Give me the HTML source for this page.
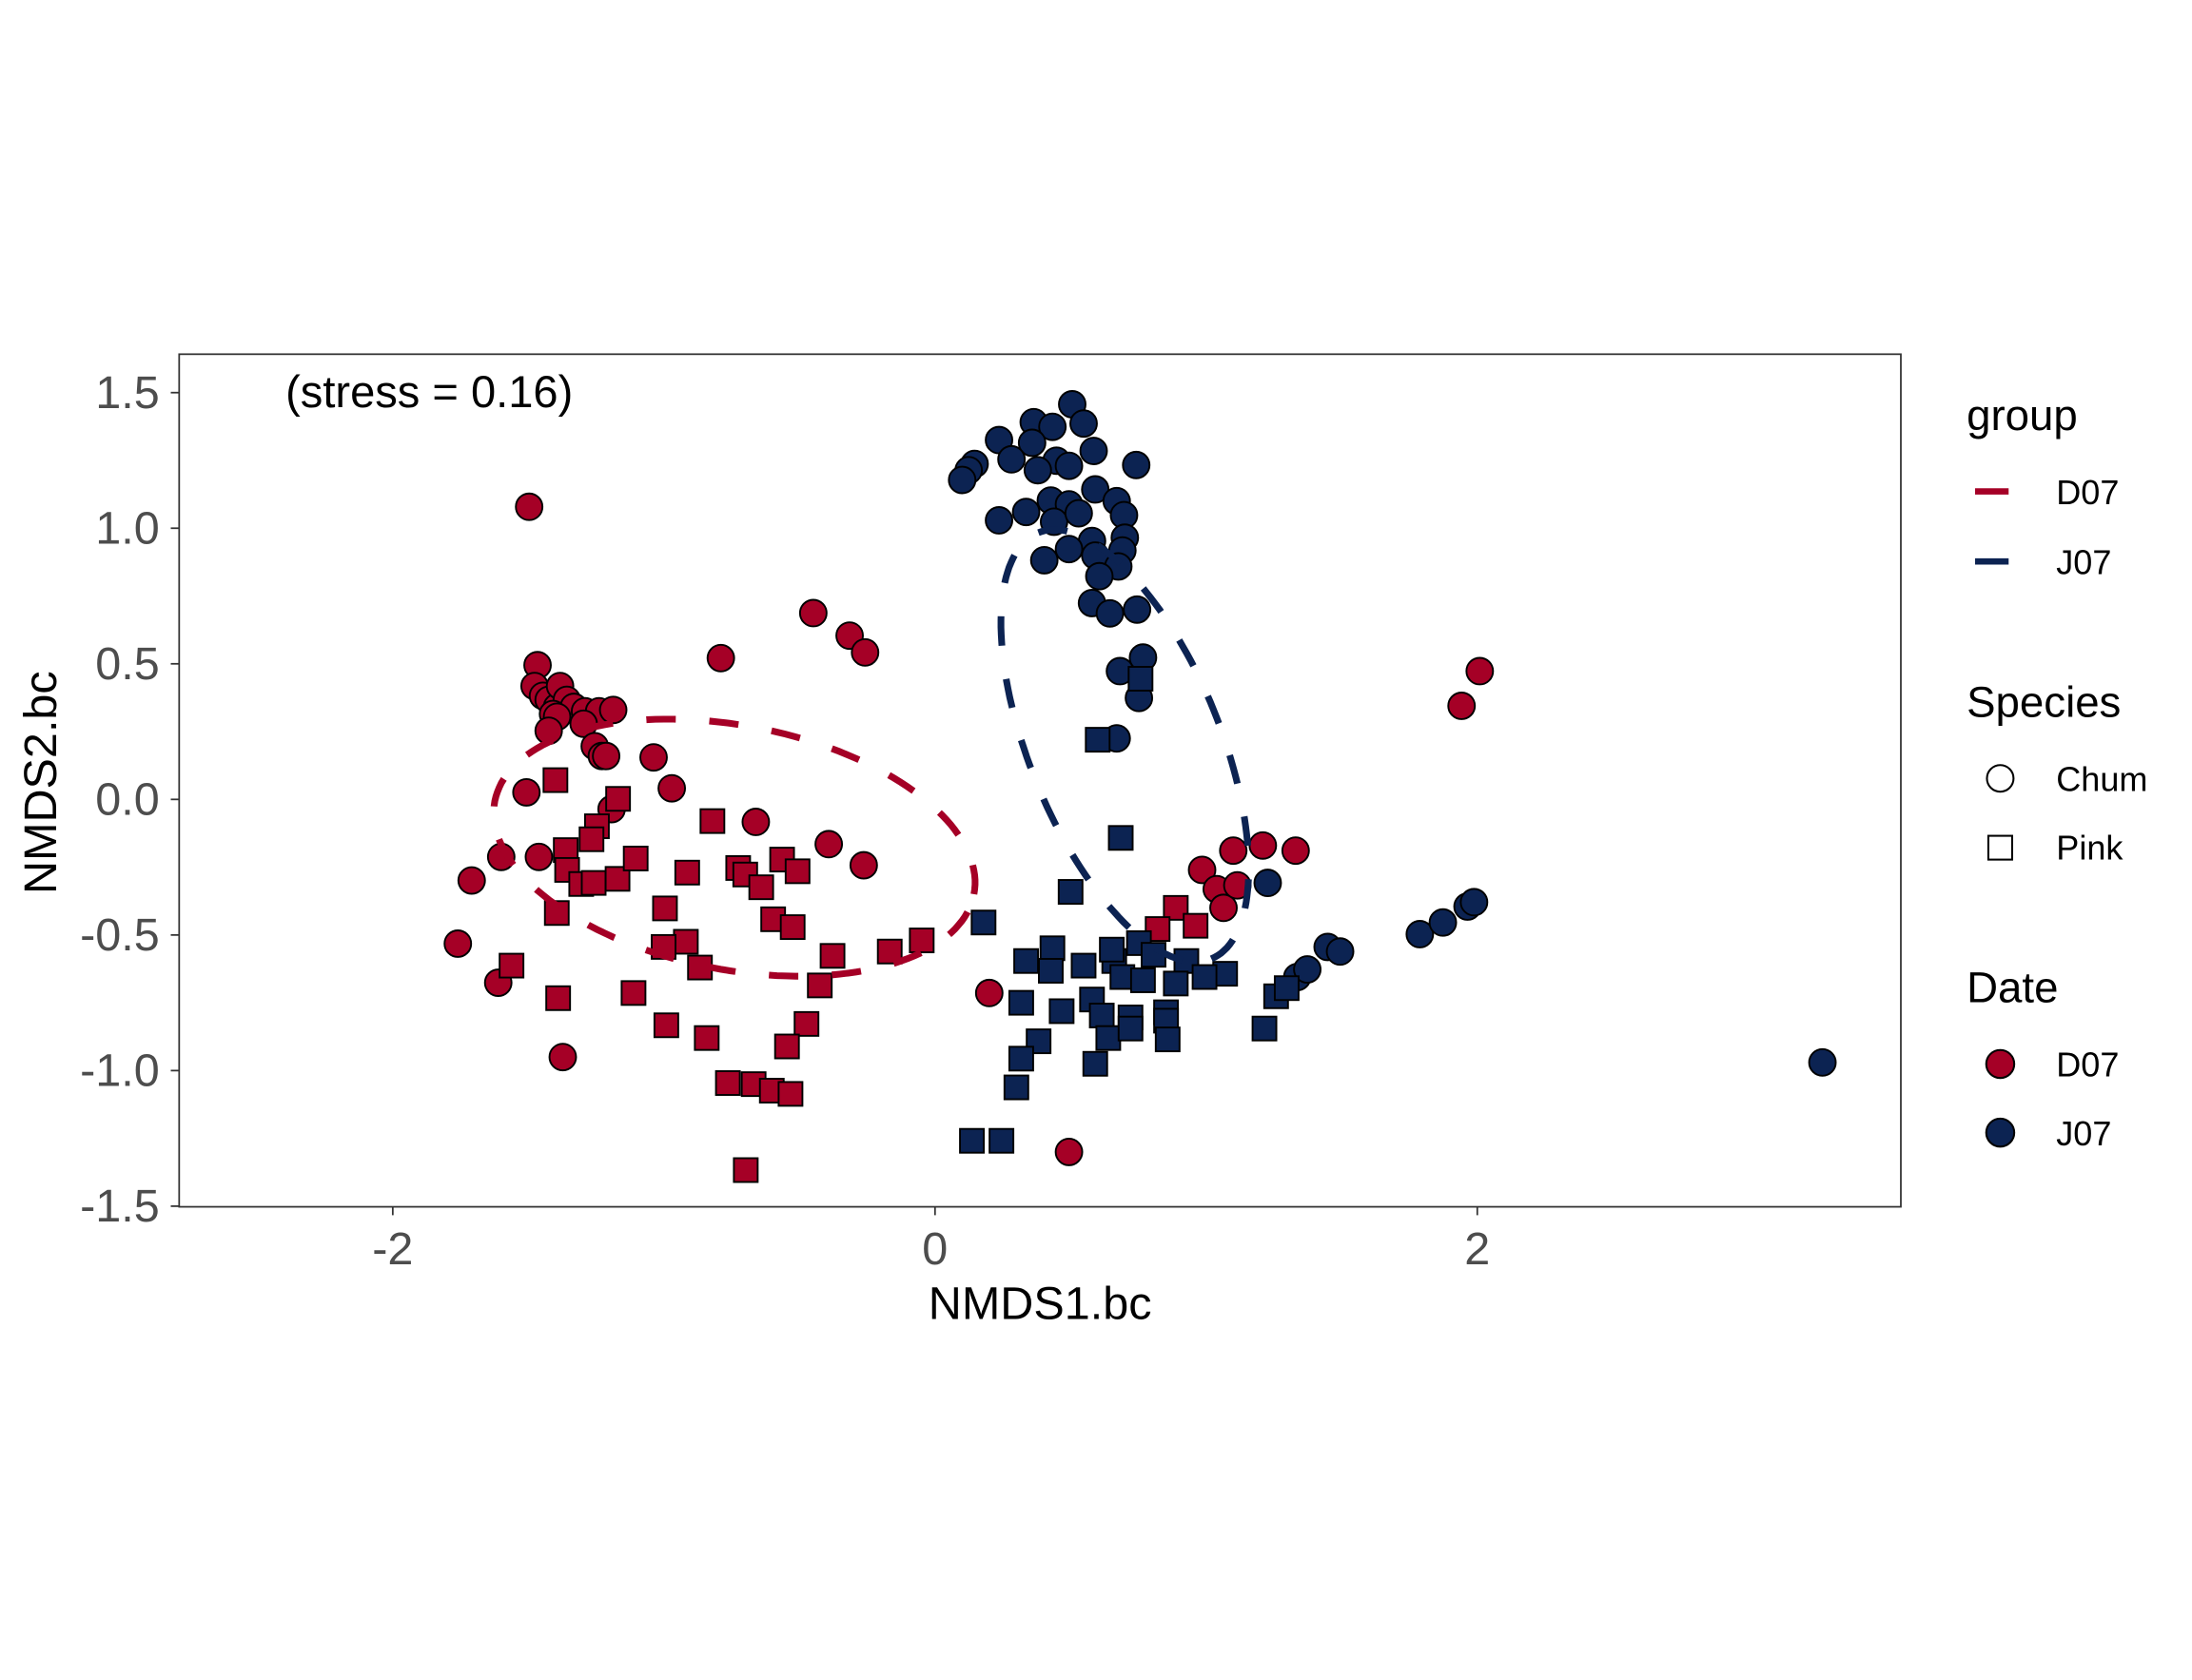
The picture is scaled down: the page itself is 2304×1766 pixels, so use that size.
<!DOCTYPE html>
<html><head><meta charset="utf-8"><style>
html,body{margin:0;padding:0;background:#fff;}
svg{display:block;font-family:"Liberation Sans",Arial,sans-serif;}
</style></head><body>
<svg id="chart" width="2304" height="1766" viewBox="0 0 1566 1200" preserveAspectRatio="none" xmlns="http://www.w3.org/2000/svg">
<rect x="0" y="0" width="1566" height="1200" fill="#fff"/>
<g id="marks"></g>
<g id="ells"></g>
<rect x="128" y="253" width="1230" height="609" fill="none" stroke="#333" stroke-width="1.2"/>
<g id="axes"></g>
<text x="204" y="291" font-size="32" fill="#000">(stress = 0.16)</text>
<text x="743" y="942" font-size="33" text-anchor="middle" fill="#000">NMDS1.bc</text>
<text transform="translate(40,559) rotate(-90)" font-size="33" text-anchor="middle" fill="#000">NMDS2.bc</text>
<g font-size="24.5" fill="#000">
  <text x="1405" y="307" font-size="31">group</text>
  <line x1="1411" y1="351" x2="1435" y2="351" stroke="#A50026" stroke-width="4.5"/>
  <text x="1469" y="360">D07</text>
  <line x1="1411" y1="401" x2="1435" y2="401" stroke="#0C2352" stroke-width="4.5"/>
  <text x="1469" y="410">J07</text>
  <text x="1405" y="512" font-size="31">Species</text>
  <circle cx="1429" cy="556" r="9.5" fill="none" stroke="#000" stroke-width="1.4"/>
  <text x="1469" y="565">Chum</text>
  <rect x="1420.5" y="597" width="17" height="17" fill="none" stroke="#000" stroke-width="1.4"/>
  <text x="1469" y="614">Pink</text>
  <text x="1405" y="716" font-size="31">Date</text>
  <circle cx="1429" cy="760" r="10" fill="#A50026" stroke="#000" stroke-width="1.4"/>
  <text x="1469" y="769">D07</text>
  <circle cx="1429" cy="809" r="10" fill="#0C2352" stroke="#000" stroke-width="1.4"/>
  <text x="1469" y="818">J07</text>
</g>
</svg>
<script>
const xTicks = [-2, 0, 2];
const xTickLabels = ["-2", "0", "2"];
const yTicks = [1.5, 1.0, 0.5, 0.0, -0.5, -1.0, -1.5];
const yTickLabels = ["1.5", "1.0", "0.5", "0.0", "-0.5", "-1.0", "-1.5"];

const d07ChumX = [-1.497,-1.466,-1.477,-1.446,-1.425,-1.394,-1.383,-1.358,-1.332,-1.409,-1.291,-1.239,-1.187,-1.394,-1.425,-1.296,-1.255,-1.229,-1.213,-1.507,-1.600,-1.461,-1.709,-1.760,-1.611,-1.373,-1.038,-0.971,-0.790,-0.449,-0.315,-0.258,-0.661,-0.392,-0.263,0.200,0.494,0.985,1.039,1.064,1.100,1.209,1.330,1.115,1.942,2.009,-1.193];
const d07ChumY = [1.079,0.495,0.418,0.382,0.367,0.341,0.418,0.367,0.341,0.315,0.325,0.325,0.330,0.305,0.253,0.279,0.196,0.160,0.160,0.026,-0.212,-0.212,-0.299,-0.532,-0.676,-0.950,0.155,0.041,0.521,0.687,0.604,0.542,-0.083,-0.165,-0.243,-0.714,-1.300,-0.260,-0.331,-0.400,-0.189,-0.170,-0.189,-0.317,0.345,0.473,-0.036];

const d07PinkX = [-1.400,-1.169,-1.247,-1.267,-1.362,-1.357,-1.305,-1.259,-1.171,-1.104,-1.395,-1.562,-1.390,-1.112,-0.996,-0.914,-0.919,-0.867,-0.991,-0.842,-0.821,-0.726,-0.700,-0.641,-0.564,-0.507,-0.597,-0.525,-0.378,-0.425,-0.474,-0.546,-0.764,-0.669,-0.602,-0.533,-0.698,-0.167,-0.049,-1.001,0.888,0.821,0.961];
const d07PinkY = [0.071,0.002,-0.099,-0.147,-0.187,-0.260,-0.312,-0.308,-0.293,-0.218,-0.419,-0.613,-0.733,-0.714,-0.402,-0.270,-0.525,-0.620,-0.833,-0.880,-0.080,-0.253,-0.277,-0.324,-0.222,-0.265,-0.442,-0.471,-0.577,-0.686,-0.828,-0.911,-1.046,-1.050,-1.074,-1.086,-1.367,-0.561,-0.520,-0.544,-0.400,-0.478,-0.466];

const j07ChumX = [0.506,0.364,0.433,0.548,0.236,0.358,0.585,0.282,0.448,0.494,0.379,0.742,0.146,0.124,0.100,0.591,0.670,0.427,0.494,0.697,0.336,0.236,0.439,0.530,0.579,0.700,0.691,0.494,0.403,0.591,0.676,0.606,0.579,0.645,0.745,0.767,0.682,0.752,0.670,1.227,1.448,1.494,1.788,1.873,1.964,1.988,1.336,1.373,3.273];
const j07ChumY = [1.457,1.391,1.374,1.386,1.325,1.315,1.285,1.254,1.249,1.230,1.214,1.233,1.237,1.214,1.178,1.143,1.100,1.102,1.088,1.048,1.060,1.029,1.024,1.055,0.953,0.965,0.918,0.923,0.882,0.899,0.859,0.823,0.724,0.686,0.700,0.523,0.473,0.374,0.225,-0.308,-0.544,-0.561,-0.497,-0.454,-0.395,-0.379,-0.655,-0.627,-0.970];

const j07PinkX = [0.600,0.758,0.685,0.500,0.179,0.336,0.433,0.427,0.548,0.661,0.652,0.752,0.806,0.927,0.888,0.691,0.767,1.070,0.994,0.318,0.467,0.579,0.615,0.721,0.852,0.852,0.639,0.721,0.858,0.382,0.318,0.591,0.300,0.136,0.245,1.215,1.258,1.297];
const j07PinkY = [0.220,0.445,-0.142,-0.341,-0.454,-0.596,-0.549,-0.632,-0.613,-0.596,-0.554,-0.530,-0.573,-0.596,-0.679,-0.655,-0.667,-0.643,-0.655,-0.750,-0.781,-0.738,-0.797,-0.804,-0.785,-0.816,-0.880,-0.845,-0.885,-0.892,-0.956,-0.975,-1.062,-1.259,-1.259,-0.845,-0.726,-0.696];

const ellipseGroups = ["D07", "J07"];
const ellipseCx = [-0.74, 0.70];
const ellipseCy = [-0.178, 0.198];
const ellipseA = [0.90, 0.848];
const ellipseB = [0.45, 0.353];
const ellipseAngleDeg = [-11, -67.9];

const NS = "http://www.w3.org/2000/svg";
const RED = "#A50026", NAVY = "#0C2352";
const X0 = 668, Y0 = 571, UNIT = 193.7;
function sx(v){ return X0 + v * UNIT; }
function sy(v){ return Y0 - v * UNIT; }
const marks = document.getElementById("marks");
const axes = document.getElementById("axes");
const ells = document.getElementById("ells");

xTicks.forEach((t, i) => {
  const ln = document.createElementNS(NS, "line");
  ln.setAttribute("x1", sx(t)); ln.setAttribute("x2", sx(t));
  ln.setAttribute("y1", 862); ln.setAttribute("y2", 868);
  ln.setAttribute("stroke", "#333"); ln.setAttribute("stroke-width", "1.2");
  
  
  axes.appendChild(ln);
  const tx = document.createElementNS(NS, "text");
  tx.setAttribute("x", sx(t)); tx.setAttribute("y", 903);
  tx.setAttribute("text-anchor", "middle"); tx.setAttribute("font-size", "33"); tx.setAttribute("fill", "#4D4D4D");
  tx.textContent = xTickLabels[i];
  
  
  axes.appendChild(tx);
});
yTicks.forEach((t, i) => {
  const ln = document.createElementNS(NS, "line");
  ln.setAttribute("x1", 122); ln.setAttribute("x2", 128);
  ln.setAttribute("y1", sy(t)); ln.setAttribute("y2", sy(t));
  ln.setAttribute("stroke", "#333"); ln.setAttribute("stroke-width", "1.2");
  
  
  axes.appendChild(ln);
  const tx = document.createElementNS(NS, "text");
  tx.setAttribute("x", 114); tx.setAttribute("y", sy(t) + 11);
  tx.setAttribute("text-anchor", "end"); tx.setAttribute("font-size", "33"); tx.setAttribute("fill", "#4D4D4D");
  tx.textContent = yTickLabels[i];
  
  
  axes.appendChild(tx);
});

function drawCircles(xs, ys, fill, name){
  xs.forEach((x, i) => {
    const c = document.createElementNS(NS, "circle");
    c.setAttribute("cx", sx(x)); c.setAttribute("cy", sy(ys[i])); c.setAttribute("r", 9.5);
    c.setAttribute("fill", fill); c.setAttribute("stroke", "#000"); c.setAttribute("stroke-width", "1.3");
    
    
    marks.appendChild(c);
  });
}
function drawSquares(xs, ys, fill, name){
  xs.forEach((x, i) => {
    const r = document.createElementNS(NS, "rect");
    r.setAttribute("x", sx(x) - 8.5); r.setAttribute("y", sy(ys[i]) - 8.5);
    r.setAttribute("width", 17); r.setAttribute("height", 17);
    r.setAttribute("fill", fill); r.setAttribute("stroke", "#000"); r.setAttribute("stroke-width", "1.3");
    
    
    marks.appendChild(r);
  });
}
drawCircles(d07ChumX, d07ChumY, RED, "point-d07-chum");
drawSquares(d07PinkX, d07PinkY, RED, "point-d07-pink");
drawCircles(j07ChumX, j07ChumY, NAVY, "point-j07-chum");
drawSquares(j07PinkX, j07PinkY, NAVY, "point-j07-pink");

ellipseGroups.forEach((g, k) => {
  const th = ellipseAngleDeg[k] * Math.PI / 180;
  let d = "";
  for (let s = 0; s <= 160; s++) {
    const t = s / 160 * 2 * Math.PI;
    const ex = ellipseCx[k] + ellipseA[k] * Math.cos(t) * Math.cos(th) - ellipseB[k] * Math.sin(t) * Math.sin(th);
    const ey = ellipseCy[k] + ellipseA[k] * Math.cos(t) * Math.sin(th) + ellipseB[k] * Math.sin(t) * Math.cos(th);
    d += (s === 0 ? "M" : "L") + sx(ex).toFixed(1) + "," + sy(ey).toFixed(1);
  }
  const p = document.createElementNS(NS, "path");
  p.setAttribute("d", d);
  p.setAttribute("fill", "none");
  p.setAttribute("stroke", k === 0 ? RED : NAVY);
  p.setAttribute("stroke-width", "4.8");
  p.setAttribute("stroke-dasharray", "21 24");
  
  
  ells.appendChild(p);
});
</script>
</body></html>
